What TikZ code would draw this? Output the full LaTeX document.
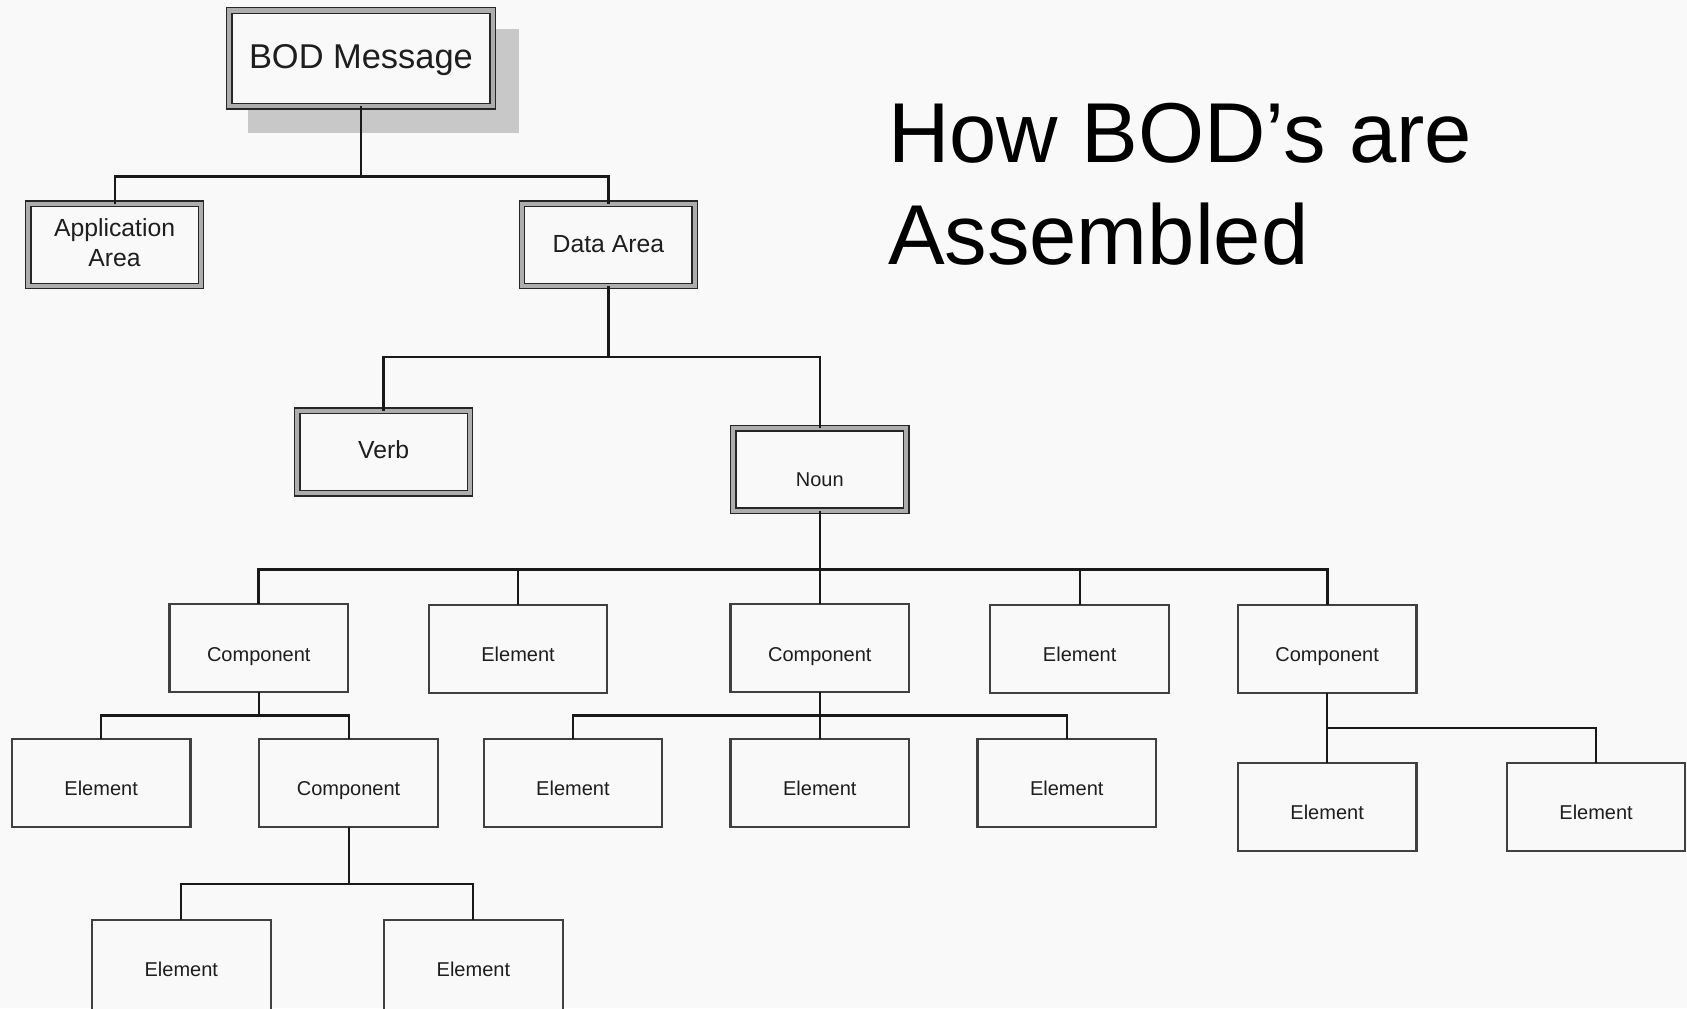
\documentclass[tikz,border=0pt]{standalone}
\usepackage{fontspec}
\setmainfont{Liberation Sans}
\usetikzlibrary{calc}
\definecolor{bg}{HTML}{F9F9F9}
\definecolor{shadowgray}{HTML}{C8C8C8}
\definecolor{ink}{HTML}{1E1E1E}

\begin{document}
\begin{tikzpicture}[x=0.5pt,y=-0.5pt,
  dbox/.style={draw=black!85, line width=0.65pt, double=black!32, double distance=1.9pt,
               fill=bg, inner sep=0pt, outer sep=0pt},
  areabox/.style={dbox, minimum width=80.3pt, minimum height=38.3pt},
  sbox/.style={draw=black!75, line width=1pt, fill=bg, inner sep=0pt, outer sep=0pt,
               minimum width=83pt, minimum height=41pt},
  link/.style={draw=black!90, line width=1pt},
  small/.style={anchor=base, inner sep=0pt, text=ink, font=\fontsize{9.3}{11}\selectfont},
  mid/.style={anchor=base, inner sep=0pt, text=ink, font=\fontsize{11.5}{14}\selectfont},
  big/.style={anchor=base west, inner sep=0pt, text=black, font=\fontsize{39.5}{47.5}\selectfont},
]
\useasboundingbox (0,0) rectangle (1568,937);
\clip (0,0) rectangle (1568,937);
\fill[bg] (0,0) rectangle (1568,937);

% title
\node[big] (title1) at (825,151.2) {How BOD’s are};
\node[big] (title2) at (825,246.3) {Assembled};

% root message with its drop shadow
\fill[shadowgray] (230.5,27) rectangle (482,123.6);
\node[dbox, minimum width=122.3pt, minimum height=44.5pt] (bod) at (335.5,54.25) {};
\node[anchor=base, inner sep=0pt, text=ink, font=\fontsize{16}{19}\selectfont] (bodt) at (335.5,63.4) {BOD Message};

% areas
\node[areabox] (app) at (106.5,227.5) {};
\node[mid] (appt1) at (106.5,219.5) {Application};
\node[mid] (appt2) at (106.5,247.5) {Area};
\node[areabox] (data) at (565.5,227.5) {};
\node[mid] (datat) at (565.5,234.5) {Data Area};

% verb and noun
\node[areabox] (verb) at (356.5,420) {};
\node[mid] (verbt) at (356.5,426.5) {Verb};
\node[areabox] (noun) at (762,436.5) {};
\node[small] (nount) at (762,452.6) {Noun};

% second level under the noun
\node[sbox] (c1) at (240.5,602.5) {};
\node[small] (c1t) at (240.5,614.5) {Component};
\node[sbox] (e1) at (481.5,603) {};
\node[small] (e1t) at (481.5,615) {Element};
\node[sbox] (c2) at (762,602.5) {};
\node[small] (c2t) at (762,614.5) {Component};
\node[sbox] (e2) at (1003.5,603) {};
\node[small] (e2t) at (1003.5,615) {Element};
\node[sbox] (c3) at (1233.5,603) {};
\node[small] (c3t) at (1233.5,615) {Component};

% third level
\node[sbox] (r1) at (94,727.5) {};
\node[small] (r1t) at (94,739.5) {Element};
\node[sbox] (c4) at (324,727.5) {};
\node[small] (c4t) at (324,739.5) {Component};
\node[sbox] (r2) at (532.5,727.5) {};
\node[small] (r2t) at (532.5,739.5) {Element};
\node[sbox] (r3) at (762,727.5) {};
\node[small] (r3t) at (762,739.5) {Element};
\node[sbox] (r4) at (991.5,727.5) {};
\node[small] (r4t) at (991.5,739.5) {Element};
\node[sbox] (r5) at (1233.5,750) {};
\node[small] (r5t) at (1233.5,762) {Element};
\node[sbox] (r6) at (1483.5,750) {};
\node[small] (r6t) at (1483.5,762) {Element};

% fourth level, running past the lower edge
\node[sbox, minimum height=45pt] (b1) at (168.5,900) {};
\node[small] (b1t) at (168.5,908) {Element};
\node[sbox, minimum height=45pt] (b2) at (440,900) {};
\node[small] (b2t) at (440,908) {Element};

% junction points of the tree
\coordinate (j0) at (bod.south |- 0,164);
\coordinate (j1) at (data.south |- 0,332);
\coordinate (j2) at (noun.south |- 0,529);
\coordinate (j3) at (c1.south |- 0,665);
\coordinate (j4) at (c2.south |- 0,665);
\coordinate (j5) at (c3.south |- 0,677);
\coordinate (j6) at (c4.south |- 0,822);

% connectors
\draw[link] (bod.south) -- (j0);
\draw[link] (app.north) |- (j0) -| (data.north);

\draw[link] (data.south) -- (j1);
\draw[link] (verb.north) |- (j1) -| (noun.north);

\draw[link] (noun.south) -- (c2.north);
\draw[link, line width=1.3pt] (c1.north) |- (j2) -| (c3.north);
\draw[link] (e1.north) -- (e1.north |- j2);
\draw[link] (e2.north) -- (e2.north |- j2);

\draw[link] (c1.south) -- (j3);
\draw[link] (r1.north) |- (j3) -| (c4.north);

\draw[link] (c2.south) -- (r3.north);
\draw[link] (r2.north) |- (j4) -| (r4.north);

\draw[link] (c3.south) -- (r5.north);
\draw[link] (j5) -| (r6.north);

\draw[link] (c4.south) -- (j6);
\draw[link] (b1.north) |- (j6) -| (b2.north);
\end{tikzpicture}
\end{document}
